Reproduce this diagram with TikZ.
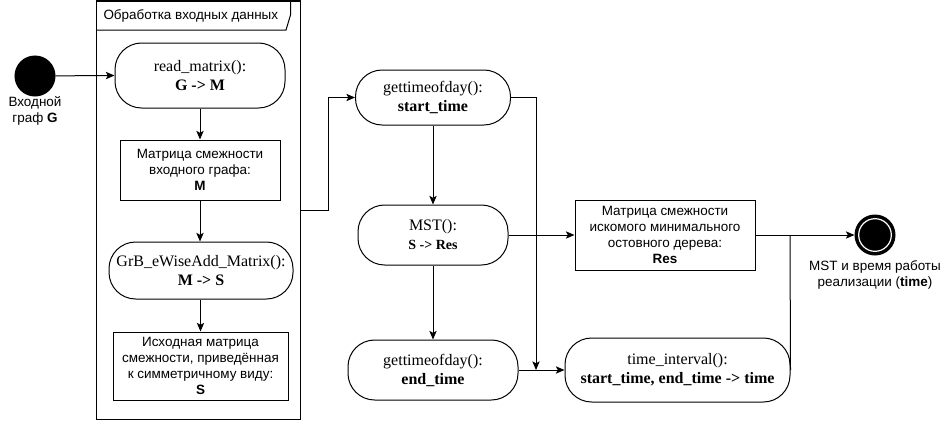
\documentclass[tikz,border=0pt]{standalone}
\usepackage{fontspec}
\setmainfont{Liberation Sans}
\newfontfamily\serifx{Liberation Serif}
\usetikzlibrary{arrows.meta}
\begin{document}
\begin{tikzpicture}[x=0.75pt,y=-0.75pt,line width=0.75pt,
  arr/.style={-{Stealth[length=6.5pt,width=5.5pt,inset=1.5pt]}},
  proc/.style={draw,rounded corners=20pt,align=center,inner sep=0pt,
    font=\serifx\fontsize{12}{14.25}\selectfont},
  databox/.style={draw,rectangle,align=center,inner sep=0pt,
    font=\fontsize{10.1}{12}\selectfont},
  lbl/.style={align=center,inner sep=0pt,font=\fontsize{10.1}{12}\selectfont},
  blackdot/.style={circle,fill=black,draw=black,minimum size=30pt,inner sep=0pt}]
\useasboundingbox (0,0) rectangle (946,421);
\fill[white] (0,0) rectangle (946,421);

% frame
\node[draw,rectangle,minimum width=153.375pt,minimum height=313.5pt,inner sep=0pt] (frame) at (198.25,210) {};
\draw (96,30) -- (286,30) -- (290.5,15) -- (290.5,1);
\node[lbl,anchor=west] (title) at (103,16) {Обработка входных данных};

% start
\node[blackdot] (start) at (35,76) {};
\node[lbl] (startlbl) at (35,111) {Входной\\граф \textbf{G}};

% left column
\node[proc,minimum width=127.5pt,minimum height=48.75pt] (rm) at (200,75.5) {read\_matrix():\\\textbf{G -> M}};
\node[databox,minimum width=120pt,minimum height=45pt] (m1) at (200,170) {Матрица смежности\\входного графа:\\\textbf{M}};
\node[proc,minimum width=138pt,minimum height=42.75pt] (grb) at (201,270.5) {GrB\_eWiseAdd\_Matrix():\\\textbf{M -> S}};
\node[databox,minimum width=131.25pt,minimum height=51pt] (sbox) at (200.5,366) {Исходная матрица\\смежности, приведённая\\к симметричному виду:\\\textbf{S}};

% middle column
\node[proc,minimum width=116.25pt,minimum height=41.25pt] (gs) at (433,97.5) {gettimeofday():\\\textbf{start\_time}};
\node[proc,minimum width=112.5pt,minimum height=45pt] (mst) at (433,235) {MST():\\{\fontsize{10.5}{12}\selectfont\textbf{S -> Res}}};
\node[proc,minimum width=127.5pt,minimum height=45pt] (ge) at (433,370) {gettimeofday():\\\textbf{end\_time}};

% right
\node[databox,minimum width=135pt,minimum height=52.5pt] (res) at (665,235) {Матрица смежности\\искомого минимального\\остовного дерева:\\\textbf{Res}};
\node[proc,minimum width=168.75pt,minimum height=48pt] (ti) at (677.5,370) {time\_interval():\\\textbf{start\_time, end\_time -> time}};

% final
\node[blackdot] (fin) at (875,235) {};
\node[circle,draw=white,fill=black,line width=0.9pt,minimum size=24.5pt,inner sep=0pt] (fininner) at (875,235) {};
\node[lbl] (finlbl) at (875,275) {MST и время работы\\реализации (\textbf{time})};

\coordinate (j1) at (536,370);
\coordinate (j2) at (790,235);

% connectors
\draw[arr] (start) -- (rm.west);
\draw[arr] (rm.south) -- (m1.north);
\draw[arr] (m1.south) -- (m1.south |- grb.north);
\draw[arr] (grb.south -| sbox.north) -- (sbox.north);
\draw[arr] (frame.east) -- ++(27.5,0) |- (gs.west);
\draw[arr] (gs.south) -- (mst.north);
\draw[arr] (mst.south) -- (ge.north);
\draw[arr] (gs.east) -| (j1);
\draw[arr] (ge.east) -- (ti.west);
\draw[arr] (mst.east) -- (res.west);
\draw[arr] (res.east) -- (fin.west);
\draw (ti.east) -- (j2);
\end{tikzpicture}
\end{document}
